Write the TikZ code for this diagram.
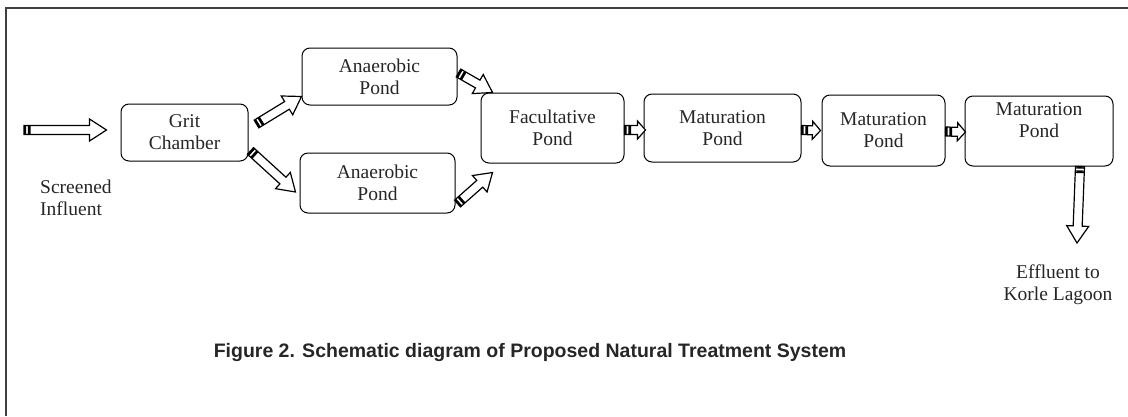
\documentclass[tikz,border=0pt]{standalone}
\usepackage{fontspec}
\setmainfont{Liberation Serif}
\setsansfont{Liberation Sans}
\usetikzlibrary{calc, positioning}

\begin{document}
\begin{tikzpicture}[x=1pt, y=-1pt,
        pond/.style={rectangle, draw, rounded corners=8pt, line width=1pt, inner sep=0pt, align=center, text=black!85, font=\fontsize{19.5}{22}\selectfont},
        note/.style={inner sep=0pt, text=black!85, font=\fontsize{19.5}{22}\selectfont},
        pipebase/.style={draw, fill=white, line width=1.2pt, line join=miter,
            to path={let \p1=(\tikztostart), \p2=(\tikztotarget),
                \n1={atan2(\y2-\y1,\x2-\x1)}, \n2={veclen(\x2-\x1,\y2-\y1)} in
                ($(\p1)+(\n1+90:\pw)$) -- ($(\p1)+(\n1:\n2-\hl)+(\n1+90:\pw)$)
                -- ($(\p1)+(\n1:\n2-\hl)+(\n1+90:\hw)$) -- (\p2)
                -- ($(\p1)+(\n1:\n2-\hl)+(\n1-90:\hw)$) -- ($(\p1)+(\n1:\n2-\hl)+(\n1-90:\pw)$)
                -- ($(\p1)+(\n1-90:\pw)$) -- cycle
                ($(\p1)+(\n1:1.5pt)+(\n1+90:\pw)$) -- ($(\p1)+(\n1:1.5pt)+(\n1-90:\pw)$)
                ($(\p1)+(\n1:4.5pt)+(\n1+90:\pw)$) -- ($(\p1)+(\n1:4.5pt)+(\n1-90:\pw)$)
                ($(\p1)+(\n1:6pt)+(\n1+90:\pw)$) -- ($(\p1)+(\n1:6pt)+(\n1-90:\pw)$)}},
        pipe/.style={pipebase, /utils/exec={\def\pw{4.5pt}\def\hw{11pt}\def\hl{17pt}}},
        nub/.style={pipebase, /utils/exec={\def\pw{4.5pt}\def\hw{9pt}\def\hl{8pt}}}
    ]
    \useasboundingbox (0,0) rectangle (1128,416);

    % frame
    \draw[line width=2pt, black!75] (1128,8) -- (6,8) -- (6,416);

    % grit chamber
    \node[pond, minimum width=127pt, minimum height=57pt] (grit) at (184.5,132.5) {Grit\\Chamber};

    % anaerobic ponds
    \node[pond, minimum width=155pt, minimum height=57pt] (an1) at (379.5,76.5) {Anaerobic\\Pond};
    \node[pond, minimum width=155pt, minimum height=60pt] (an2) at (377.5,183) {Anaerobic\\Pond};

    % facultative and maturation ponds
    \node[pond, minimum width=143pt, minimum height=70pt] (fac) at (552.5,128) {Facultative\\Pond};
    \node[pond, minimum width=157pt, minimum height=68pt, right=19pt of fac] (mat1) {Maturation\\Pond};
    \node[pond, minimum width=123pt, minimum height=71pt, right=20pt of mat1, yshift=-2.5pt] (mat2) {Maturation\\Pond};
    \node[pond, minimum width=148pt, minimum height=70pt, text depth=22pt, right=19pt of mat2, yshift=-0.5pt] (mat3) {Maturation\\Pond};

    % inflow and outflow
    \coordinate (in) at (24,130);
    \coordinate (out) at (1077,243);
    \node[note, align=left, anchor=west] (scr) at (40,198) {Screened\\Influent};
    \node[note, align=center] (eff) at (1058,285) {Effluent to\\Korle Lagoon};

    % caption
    \node[font=\sffamily\bfseries\fontsize{19.5}{23}\selectfont, text=black!85] (cap) at (530,352) {Figure 2. Schematic diagram of Proposed Natural Treatment System};

    % flows
    \draw[pipe] (in) to ($(grit.west)+(-14,-2.5)$);
    \draw[pipe] ($(grit.east)+(8,-8.5)$) to ($(an1.south west)+(0,-9)$);
    \draw[pipe] ($(grit.east)+(2,18.5)$) to ($(an2.west)+(-4,9)$);
    \draw[pipe] ($(an1.east)+(1,-3.5)$) to ($(fac.north west)+(12,0)$);
    \draw[pipe] ($(an2.south east)+(2,-10)$) to ($(fac.south west)+(12,9)$);
    \draw[nub] ($(fac.east)+(0,2)$) to ($(mat1.west)+(2,2)$);
    \draw[nub] ($(mat1.east)+(0,2)$) to ($(mat2.west)+(-1,0)$);
    \draw[nub] ($(mat2.east)+(0,1)$) to ($(mat3.west)+(1,1)$);
    \draw[pipe] ($(mat3.south)+(41,0)$) to (out);

\end{tikzpicture}
\end{document}
